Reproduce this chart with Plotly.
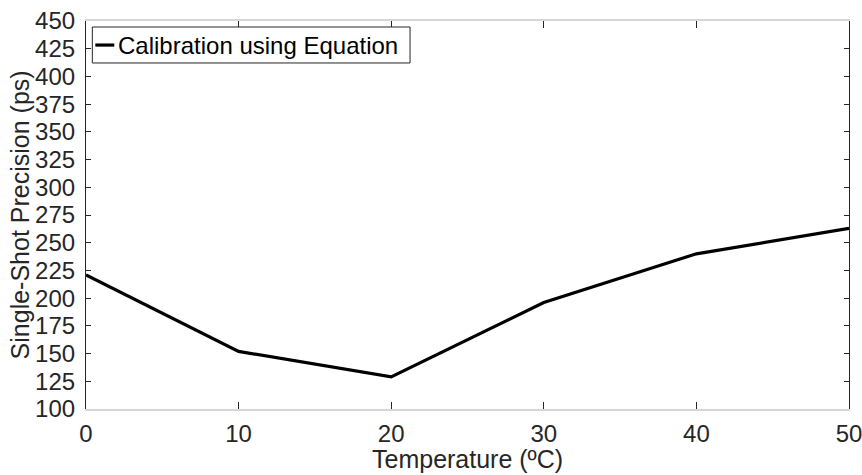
import plotly.graph_objects as go

# Single-shot precision versus temperature
temperature_c = [0, 10, 20, 30, 40, 50]
precision_ps = [221, 152, 129, 196, 240, 263]
series_name = "Calibration using Equation"

x_ticks = [0, 10, 20, 30, 40, 50]
y_ticks = list(range(100, 451, 25))
x_title = "Temperature (ºC)"
y_title = "Single-Shot Precision (ps)"

FONT = "Liberation Sans, Arial, Helvetica, sans-serif"
TXT = "#262626"

fig = go.Figure()
fig.add_trace(go.Scatter(
    x=temperature_c, y=precision_ps, mode="lines",
    line=dict(color="black", width=3.2),
    name=series_name, showlegend=False,
))

# Legend box drawn in the upper-left corner of the axes
fig.add_shape(type="rect", xref="paper", yref="paper",
              x0=0.0083, x1=0.4247, y0=0.8918, y1=0.9845,
              line=dict(color=TXT, width=1), fillcolor="white", layer="above")
fig.add_shape(type="line", xref="paper", yref="paper",
              x0=0.0122, x1=0.0371, y0=0.938, y1=0.938,
              line=dict(color="black", width=3.2), layer="above")
fig.add_annotation(xref="paper", yref="paper", x=0.039, y=0.938,
                   xanchor="left", yanchor="middle", showarrow=False,
                   text=series_name, font=dict(family=FONT, size=24, color="black"))

# Axis titles
fig.add_annotation(xref="paper", yref="paper", x=0.5, y=-0.170,
                   xanchor="center", yanchor="bottom", showarrow=False,
                   text=x_title, font=dict(family=FONT, size=25, color=TXT))
fig.add_annotation(xref="paper", yref="paper", x=-0.0860, y=0.5,
                   xanchor="center", yanchor="middle", showarrow=False, textangle=-90,
                   text=y_title, font=dict(family=FONT, size=25, color=TXT))

fig.update_layout(
    width=862, height=475,
    margin=dict(l=86, r=13, t=21, b=66, autoexpand=False),
    paper_bgcolor="white", plot_bgcolor="white",
    font=dict(family=FONT, size=24, color=TXT),
    showlegend=False,
)
fig.update_xaxes(
    range=[0, 50], tickvals=x_ticks, ticks="inside", ticklen=7, tickwidth=1,
    tickcolor=TXT, showline=True, linecolor="#d6d6d6", linewidth=2, mirror="ticks",
    showgrid=False, zeroline=False, tickfont=dict(size=24, color=TXT),
    ticklabelstandoff=2, ticklabeloverflow="allow", automargin=False,
)
fig.update_yaxes(
    range=[100, 450], tickvals=y_ticks, ticks="inside", ticklen=5, tickwidth=1,
    tickcolor=TXT, showline=True, linecolor=TXT, linewidth=1.2, mirror="ticks",
    showgrid=False, zeroline=False, tickfont=dict(size=24, color=TXT),
    ticklabelstandoff=5, ticklabeloverflow="allow", automargin=False,
)

fig.write_html("out.html")
